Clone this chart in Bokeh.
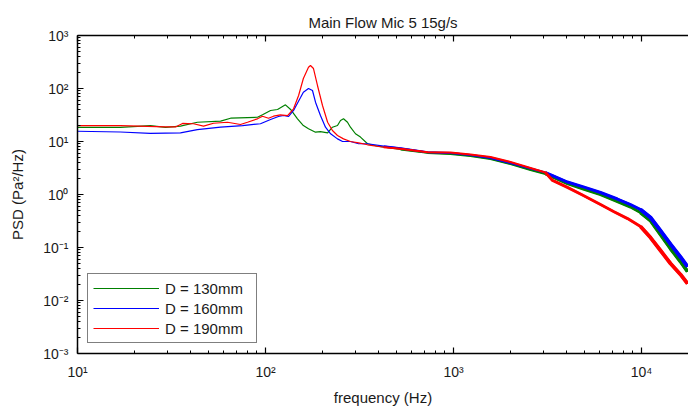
import numpy as np
from bokeh.plotting import figure
from bokeh.models import Range1d, FixedTicker, LogAxis
from bokeh.embed import file_html
from bokeh.resources import INLINE

# ---- data (frequency in Hz, PSD in Pa^2/Hz) ----
freq_130 = [10, 16.9, 24.4, 29.4, 35.3, 43.4, 57.7, 65.2, 90.6, 96.4, 106.4, 115.9, 127.7, 136, 148,
            159, 169.3, 184.5, 196, 214, 227, 241.5, 250.6, 260, 273, 283, 301, 320, 349, 395,
            523, 728, 964, 1231, 1573, 2010, 2568, 3085, 3365, 4036, 4909, 6055, 7447, 8742, 9880,
            11166, 12620, 14265, 16120, 17570]
psd_130 = [18.4, 18.4, 20.0, 18.4, 19.5, 23.1, 24.2, 27.5, 28.7, 31.9, 38.5, 40.2, 49.2, 40.2, 26.8,
           20.0, 17.4, 15.0, 15.4, 14.6, 18.6, 20.0, 24.9, 26.8, 23.1, 18.6, 14.0, 12.1, 9.06, 8.15,
           7.06, 6.1, 5.81, 5.33, 4.67, 3.76, 2.90, 2.44, 2.14, 1.61, 1.27, 1.0, 0.738, 0.581, 0.457,
           0.323, 0.176, 0.0958, 0.0544, 0.0352]

freq_160 = [10, 16.9, 24.4, 35.3, 43.4, 57.7, 75.5, 94, 106.4, 117.2, 124.7, 132.4, 141, 153.6, 159,
            169.3, 177.8, 184.5, 196, 208.5, 222, 241.5, 257, 283, 313, 349, 425, 523, 728, 964,
            1231, 1573, 2010, 2568, 3085, 3365, 4036, 4909, 6055, 7447, 8742, 9880, 11166, 12620,
            14265, 16120, 17570]
psd_160 = [15.6, 15.1, 14.2, 14.5, 16.8, 18.6, 20.0, 21.6, 26.0, 29.6, 30.9, 29.6, 38.5, 67.6, 85.2,
           100, 91.7, 55.2, 30.9, 18.6, 14.0, 11.2, 10.0, 10.0, 9.06, 9.06, 8.15, 7.48, 6.28, 6.07,
           5.56, 4.88, 3.93, 3.10, 2.60, 2.28, 1.72, 1.39, 1.09, 0.822, 0.647, 0.521, 0.368, 0.209,
           0.116, 0.0662, 0.0438]

freq_190 = [10, 16.9, 29.4, 33.2, 36.2, 41.4, 46.8, 52.9, 62.8, 73.6, 80.2, 90.6, 96.4, 103.8, 110.3,
            120, 131, 141, 150, 159, 169.3, 173.5, 180, 189, 201, 214, 227, 241.5, 260, 283,
            313, 349, 425, 523, 728, 964, 1231, 1573, 2010, 2568, 3085, 3365, 4036, 4909, 6055,
            7096, 8434, 9880, 11166, 12620, 14265, 16120, 17570]
psd_190 = [20.0, 20.0, 18.8, 18.8, 21.9, 21.6, 19.5, 22.1, 23.1, 20.9, 23.1, 26.8, 30.0, 27.5, 30.0,
           31.9, 30.9, 41.4, 73.8, 154.5, 252, 272, 238, 114, 47.8, 23.1, 16.1, 13.0, 11.2, 10.0,
           9.45, 8.67, 7.80, 7.28, 6.28, 6.20, 5.69, 5.10, 4.10, 3.16, 2.60, 1.84, 1.36, 0.957, 0.647,
           0.478, 0.352, 0.249, 0.154, 0.0877, 0.0499, 0.031, 0.0209]

series_names = ["D = 130mm", "D = 160mm", "D = 190mm"]
series_colors = ["#008000", "#0000ff", "#ff0000"]

x_major = [10, 100, 1000, 10000]
x_labels = ["10\u00b9", "10\u00b2", "10\u00b3", "10\u2074"]
y_major = [0.001, 0.01, 0.1, 1, 10, 100, 1000]
y_labels = ["10\u207b\u00b3", "10\u207b\u00b2", "10\u207b\u00b9", "10\u2070", "10\u00b9", "10\u00b2", "10\u00b3"]

FONT = "Liberation Sans"
TXT = "#1a1a1a"

x_minor = [m * d for d in [10, 100, 1000, 10000] for m in range(2, 10)]
y_minor = [m * d for d in y_major[:-1] for m in range(2, 10)]

p = figure(frame_width=611, frame_height=318,
           x_axis_type="log", y_axis_type="log",
           x_range=Range1d(10, 17783), y_range=Range1d(0.001, 1000),
           output_backend="svg", toolbar_location=None,
           min_border_left=77, min_border_right=0, min_border_top=35, min_border_bottom=55,
           title="Main Flow Mic 5 15g/s")
p.title.align = "center"
p.title.text_font = FONT
p.title.text_font_size = "15px"
p.title.text_font_style = "normal"
p.title.text_color = TXT
p.outline_line_color = None
p.xgrid.visible = False
p.ygrid.visible = False
p.background_fill_color = "white"
p.border_fill_color = "white"

def style_axis(ax, major, minor, labels, standoff):
    ax.ticker = FixedTicker(ticks=major, minor_ticks=minor)
    ax.major_label_overrides = {t: l for t, l in zip(major, labels)}
    ax.major_tick_in = 6
    ax.major_tick_out = 0
    ax.minor_tick_in = 3
    ax.minor_tick_out = 0
    ax.axis_line_width = 1.5
    ax.major_tick_line_width = 1.2
    ax.major_label_text_font = FONT
    ax.major_label_text_font_size = "14px"
    ax.major_label_text_color = TXT
    ax.major_label_standoff = standoff
    ax.axis_label_text_font = FONT
    ax.axis_label_text_font_size = "15px"
    ax.axis_label_text_font_style = "normal"
    ax.axis_label_text_color = TXT

style_axis(p.xaxis[0], x_major, x_minor, x_labels, 10)
style_axis(p.yaxis[0], y_major, y_minor, y_labels, 9)
p.xaxis[0].axis_label = "frequency (Hz)"
p.xaxis[0].axis_label_standoff = 6
p.yaxis[0].axis_label = "PSD (Pa\u00b2/Hz)"
p.yaxis[0].axis_label_standoff = 14

top = LogAxis()
style_axis(top, x_major, x_minor, ["" for _ in x_major], 0)
top.major_label_text_font_size = "0px"
p.add_layout(top, "above")

all_f = [freq_130, freq_160, freq_190]
all_p = [psd_130, psd_160, psd_190]

for f, v, name, col in zip(all_f, all_p, series_names, series_colors):
    fa = np.array(f, dtype=float)
    va = np.array(v, dtype=float)
    p.line(fa, va, line_color=col, line_width=1.2, legend_label=name)
    # noisy band look at higher frequencies
    m1 = fa >= 400
    p.line(fa[m1], va[m1], line_color=col, line_width=2.0)
    m2 = fa >= 3000
    p.line(fa[m2], va[m2], line_color=col, line_width=3.0)
    m3 = fa >= 9000
    p.line(fa[m3], va[m3], line_color=col, line_width=3.8)

legend = p.legend[0]
legend.location = "bottom_left"
legend.border_line_color = "black"
legend.border_line_width = 1.2
legend.background_fill_color = "white"
legend.background_fill_alpha = 1.0
legend.label_text_font = FONT
legend.label_text_font_size = "15px"
legend.label_text_color = TXT
legend.glyph_width = 66
legend.glyph_height = 18
legend.label_height = 18
legend.label_width = 86
legend.label_standoff = 6
legend.spacing = 2
legend.padding = 5
legend.margin = 10

open("out.html", "w").write(file_html(p, INLINE))
